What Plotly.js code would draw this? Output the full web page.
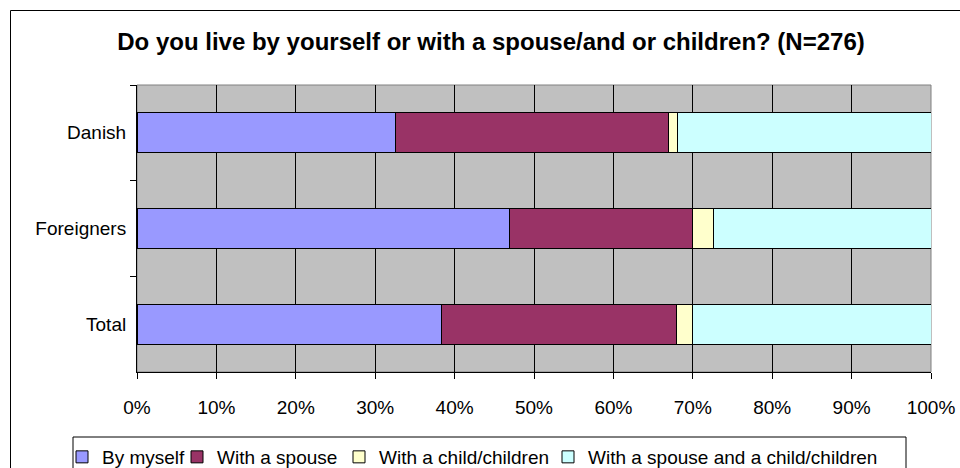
<!DOCTYPE html>
<html>
<head>
<meta charset="utf-8">
<script src="https://cdn.plot.ly/plotly-3.0.1.min.js"></script>
<style>
html,body{margin:0;padding:0;background:#fff;}
#chart{width:960px;height:468px;}
</style>
</head>
<body>
<div id="chart"></div>
<script>
var categories = ["Danish", "Foreigners", "Total"];
var seriesNames = ["By myself", "With a spouse", "With a child/children", "With a spouse and a child/children"];
var byMyself = [32.6, 46.9, 38.4];
var withSpouse = [34.3, 23.0, 29.6];
var withChild = [1.2, 2.7, 1.9];
var withSpouseAndChild = [31.9, 27.4, 30.1];
var xTickVals = [0, 10, 20, 30, 40, 50, 60, 70, 80, 90, 100];
var xTickText = ["0%", "10%", "20%", "30%", "40%", "50%", "60%", "70%", "80%", "90%", "100%"];
var colors = ["#9999FF", "#993366", "#FFFFCC", "#CCFFFF"];

var seriesValues = [byMyself, withSpouse, withChild, withSpouseAndChild];
var FONT = "Liberation Sans, Arial, sans-serif";
var legendIds = ["legend", "legend2", "legend3", "legend4"];
var legendX = [62, 177, 339, 548];

var traces = seriesValues.map(function (vals, i) {
  return {
    type: "bar",
    orientation: "h",
    name: seriesNames[i],
    x: vals,
    y: categories,
    legend: legendIds[i],
    marker: { color: colors[i], line: { color: "#000000", width: 1 } },
    hoverinfo: "x+y+name"
  };
});

// plot area in pixels
var L = 137, R = 931, T = 85, B = 372, W = 960, H = 468;
function px(x) { return (x - L) / (R - L); }
function py(y) { return (B - y) / (B - T); }

var layout = {
  width: W,
  height: H,
  paper_bgcolor: "#ffffff",
  plot_bgcolor: "#C0C0C0",
  margin: { l: L, r: W - R, t: T, b: H - B, pad: 0 },
  barmode: "stack",
  bargap: 0.585,
  font: { family: FONT, size: 19, color: "#000000" },
  title: {
    text: "<b>Do you live by yourself or with a spouse/and or children? (N=276)</b>",
    font: { family: FONT, size: 24, color: "#000000" },
    xref: "container", yref: "container",
    x: 491 / W, xanchor: "center",
    y: 1 - 42 / H, yanchor: "middle"
  },
  xaxis: {
    range: [0, 100],
    tickmode: "array",
    tickvals: xTickVals,
    ticktext: xTickText,
    ticks: "outside",
    ticklen: 6,
    tickcolor: "#000000",
    tickwidth: 1,
    ticklabelstandoff: 12,
    showgrid: true,
    gridcolor: "#000000",
    gridwidth: 1,
    showline: true,
    linecolor: "#000000",
    linewidth: 1,
    zeroline: false,
    tickfont: { family: FONT, size: 19, color: "#000000" },
    fixedrange: true
  },
  yaxis: {
    type: "category",
    categoryorder: "array",
    categoryarray: categories,
    autorange: "reversed",
    tickson: "boundaries",
    ticks: "outside",
    ticklen: 6,
    tickcolor: "#000000",
    ticklabelstandoff: 6,
    showgrid: false,
    showline: true,
    linecolor: "#000000",
    linewidth: 1,
    zeroline: false,
    tickfont: { family: FONT, size: 19, color: "#000000" },
    fixedrange: true
  },
  showlegend: true,
  shapes: [
    { type: "rect", xref: "paper", yref: "paper", x0: 0, x1: 1, y0: 0, y1: 1,
      line: { color: "#808080", width: 1 }, fillcolor: "rgba(0,0,0,0)", layer: "below" },
    { type: "rect", xref: "paper", yref: "paper", x0: px(73), x1: px(906), y0: py(437), y1: py(490),
      line: { color: "#000000", width: 1 }, fillcolor: "rgba(0,0,0,0)" },
    { type: "rect", xref: "paper", yref: "paper", x0: px(10.5), x1: px(990), y0: py(10.5), y1: py(500),
      line: { color: "#000000", width: 1 }, fillcolor: "rgba(0,0,0,0)" }
  ]
};

legendIds.forEach(function (id, i) {
  layout[id] = {
    orientation: "h",
    xref: "container", yref: "container",
    x: legendX[i] / W, xanchor: "left",
    y: 1 - 438 / H, yanchor: "top",
    bgcolor: "rgba(0,0,0,0)",
    borderwidth: 0,
    font: { family: FONT, size: 19, color: "#000000" },
    itemclick: false, itemdoubleclick: false
  };
});

Plotly.newPlot("chart", traces, layout, { displayModeBar: false, responsive: false });
</script>
</body>
</html>
